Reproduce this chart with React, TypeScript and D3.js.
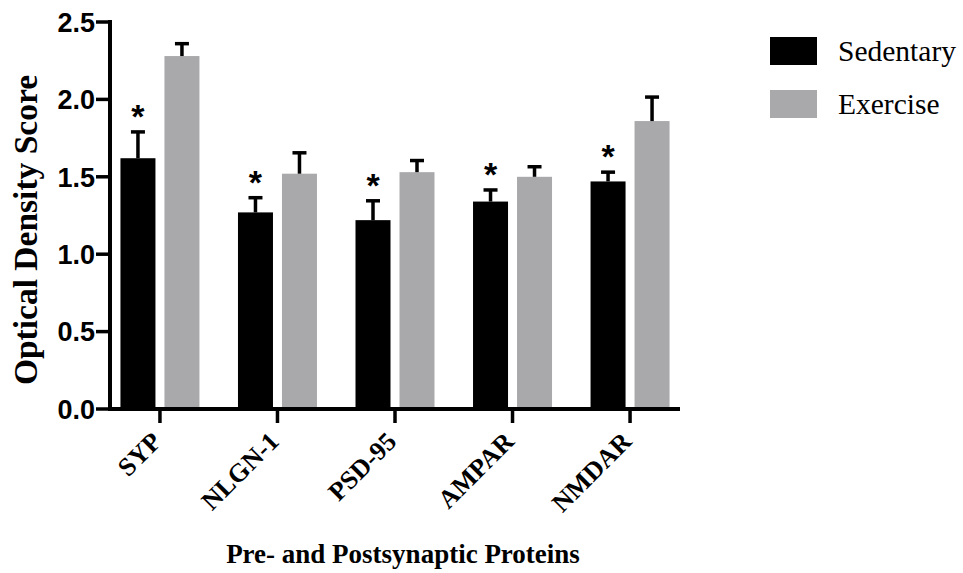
import React from "react";
import * as d3 from "d3";

const categories = ["SYP", "NLGN-1", "PSD-95", "AMPAR", "NMDAR"];
const seriesNames = ["Sedentary", "Exercise"];
const sedentaryMean = [1.62, 1.27, 1.22, 1.34, 1.47];
const sedentaryErr = [0.17, 0.095, 0.125, 0.075, 0.06];
const exerciseMean = [2.28, 1.52, 1.53, 1.50, 1.86];
const exerciseErr = [0.08, 0.135, 0.075, 0.065, 0.155];
const significant = [true, true, true, true, true];
const yTicks = [0, 0.5, 1.0, 1.5, 2.0, 2.5];

const colors = ["#000000", "#a9a9ac"];

export default function App() {
  const W = 963, H = 573;
  const x0 = 110, x1 = 680, yBase = 409, yTop = 22;
  const y = d3.scaleLinear().domain([0, 2.5]).range([yBase, yTop]);
  const x = d3.scalePoint<string>().domain(categories).range([x0, x1]).padding(0.425);
  const barW = 35, gap = 9;
  const series = [
    { name: seriesNames[0], mean: sedentaryMean, err: sedentaryErr, color: colors[0] },
    { name: seriesNames[1], mean: exerciseMean, err: exerciseErr, color: colors[1] },
  ];
  const sans = "'Liberation Sans', Arial, Helvetica, sans-serif";
  const serif = "'Liberation Serif', 'Times New Roman', Times, serif";

  return (
    <svg width={W} height={H} style={{ position: "absolute", left: 0, top: 0, background: "#fff" }}>
      <rect x={0} y={0} width={W} height={H} fill="#fff" />
      {series.map((s, si) =>
        categories.map((c, i) => {
          const cx = x(c)!;
          const left = si === 0 ? cx - gap / 2 - barW : cx + gap / 2;
          const top = y(s.mean[i]);
          const et = y(s.mean[i] + s.err[i]);
          const mid = left + barW / 2;
          return (
            <g key={s.name + c}>
              <rect x={left} y={top} width={barW} height={yBase - top} fill={s.color} />
              <line x1={mid} x2={mid} y1={top} y2={et} stroke="#000" strokeWidth={3.5} />
              <line x1={mid - 7} x2={mid + 7} y1={et} y2={et} stroke="#000" strokeWidth={3.5} />
            </g>
          );
        })
      )}
      {categories.map((c, i) => {
        if (!significant[i]) return null;
        const cx = x(c)! - gap / 2 - barW / 2;
        const et = y(sedentaryMean[i] + sedentaryErr[i]);
        return (
          <text key={"ast" + c} x={cx} y={et - 4} textAnchor="middle" fontFamily={sans} fontWeight="bold" fontSize={34} fill="#000">
            *
          </text>
        );
      })}
      {/* y axis */}
      <line x1={x0} x2={x0} y1={yTop - 2} y2={yBase + 2} stroke="#000" strokeWidth={4} />
      {yTicks.map((t) => (
        <g key={"yt" + t}>
          <line x1={x0 - 14} x2={x0} y1={y(t)} y2={y(t)} stroke="#000" strokeWidth={3.5} />
          <text x={x0 - 15} y={y(t)} dy="0.36em" textAnchor="end" fontFamily={sans} fontWeight="bold" fontSize={27} fill="#000">
            {t.toFixed(1)}
          </text>
        </g>
      ))}
      {/* x axis */}
      <line x1={x0 - 2} x2={x1} y1={yBase} y2={yBase} stroke="#000" strokeWidth={4} />
      {categories.map((c) => (
        <g key={"xt" + c}>
          <line x1={x(c)!} x2={x(c)!} y1={yBase} y2={yBase + 14} stroke="#000" strokeWidth={3.5} />
          <text
            transform={`translate(${x(c)! + 3},${yBase + 34}) rotate(-45)`}
            textAnchor="end"
            fontFamily={serif}
            fontWeight="bold"
            fontSize={26}
            fill="#000"
          >
            {c}
          </text>
        </g>
      ))}
      <text x={403} y={563} textAnchor="middle" fontFamily={serif} fontWeight="bold" fontSize={27} fill="#000">
        Pre- and Postsynaptic Proteins
      </text>
      <text transform={`translate(37,230) rotate(-90)`} textAnchor="middle" fontFamily={serif} fontWeight="bold" fontSize={33.5} fill="#000">
        Optical Density Score
      </text>
      {/* legend */}
      {series.map((s, i) => (
        <g key={"lg" + s.name}>
          <rect x={770} y={37 + i * 53} width={47} height={28} fill={s.color} />
          <text x={838} y={61 + i * 53} fontFamily={serif} fontSize={29.5} fill="#000">
            {s.name}
          </text>
        </g>
      ))}
    </svg>
  );
}
